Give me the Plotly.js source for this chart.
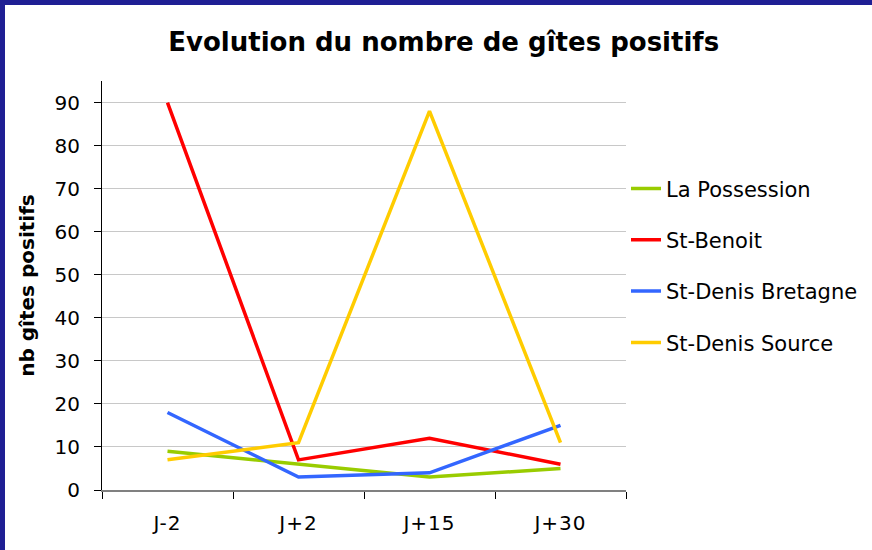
<!DOCTYPE html>
<html>
<head>
<meta charset="utf-8">
<script src="https://cdn.plot.ly/plotly-3.0.1.min.js"></script>
<style>
  html, body { margin: 0; padding: 0; }
  body { width: 872px; height: 550px; background: #1f1f94; position: relative; overflow: hidden; }
  #chart { position: absolute; left: 5px; top: 5px; width: 867px; height: 545px; background: #ffffff; }
  #chart .xtick text { letter-spacing: 1px; }
</style>
</head>
<body>
<div id="chart"></div>
<script>
const categories = ["J-2", "J+2", "J+15", "J+30"];
const seriesNames = ["La Possession", "St-Benoit", "St-Denis Bretagne", "St-Denis Source"];
const laPossession = [9, 6, 3, 5];
const stBenoit = [90, 7, 12, 6];
const stDenisBretagne = [18, 3, 4, 15];
const stDenisSource = [7, 11, 88, 11];
const seriesColors = ["#99cc00", "#ff0000", "#3366ff", "#ffcc00"];
const yTicks = [0, 10, 20, 30, 40, 50, 60, 70, 80, 90];

const seriesValues = [laPossession, stBenoit, stDenisBretagne, stDenisSource];
const FONT = "DejaVu Sans, Verdana, sans-serif";

const traces = seriesValues.map((vals, i) => ({
  type: "scatter",
  mode: "lines",
  x: categories,
  y: vals,
  name: seriesNames[i],
  legendgroup: "g" + i,
  line: { color: seriesColors[i], width: 3.5 },
  hoverinfo: "skip"
}));

const layout = {
  width: 867,
  height: 545,
  paper_bgcolor: "#ffffff",
  plot_bgcolor: "#ffffff",
  margin: { l: 97, r: 246, t: 76, b: 60, pad: 0, autoexpand: false },
  font: { family: FONT, size: 20, color: "#000000" },
  title: {
    text: "<b>Evolution du nombre de gîtes positifs</b>",
    font: { family: FONT, size: 26, color: "#000000" },
    x: 0.506, xref: "container", xanchor: "center",
    y: 0.932, yref: "container", yanchor: "middle"
  },
  xaxis: {
    type: "category",
    range: [-0.5, 3.5],
    showgrid: false,
    zeroline: false,
    showline: true,
    linecolor: "#808080",
    linewidth: 1.5,
    ticks: "outside",
    tickson: "boundaries",
    ticklen: 7,
    tickcolor: "#000000",
    tickwidth: 1,
    tickfont: { family: FONT, size: 20, color: "#000000" },
    ticklabelstandoff: 14,
    automargin: false,
    fixedrange: true
  },
  yaxis: {
    range: [0, 95],
    tickvals: yTicks,
    ticktext: yTicks.map(String),
    showgrid: true,
    gridcolor: "#c8c8c8",
    gridwidth: 1,
    zeroline: false,
    showline: true,
    linecolor: "#000000",
    linewidth: 1,
    ticks: "outside",
    ticklen: 7,
    tickcolor: "#000000",
    tickfont: { family: FONT, size: 20, color: "#000000" },
    ticklabelstandoff: 10,
    title: {
      text: "<b>nb gîtes positifs</b>",
      font: { family: FONT, size: 20, color: "#000000" },
      standoff: 14
    },
    automargin: false,
    fixedrange: true
  },
  showlegend: true,
  legend: {
    x: 1.0, xref: "paper", xanchor: "left",
    y: 0.548, yref: "paper", yanchor: "middle",
    font: { family: FONT, size: 21, color: "#000000" },
    traceorder: "grouped",
    tracegroupgap: 21,
    bgcolor: "rgba(0,0,0,0)",
    borderwidth: 0
  }
};

Plotly.newPlot("chart", traces, layout, { displayModeBar: false, staticPlot: true });
</script>
</body>
</html>
